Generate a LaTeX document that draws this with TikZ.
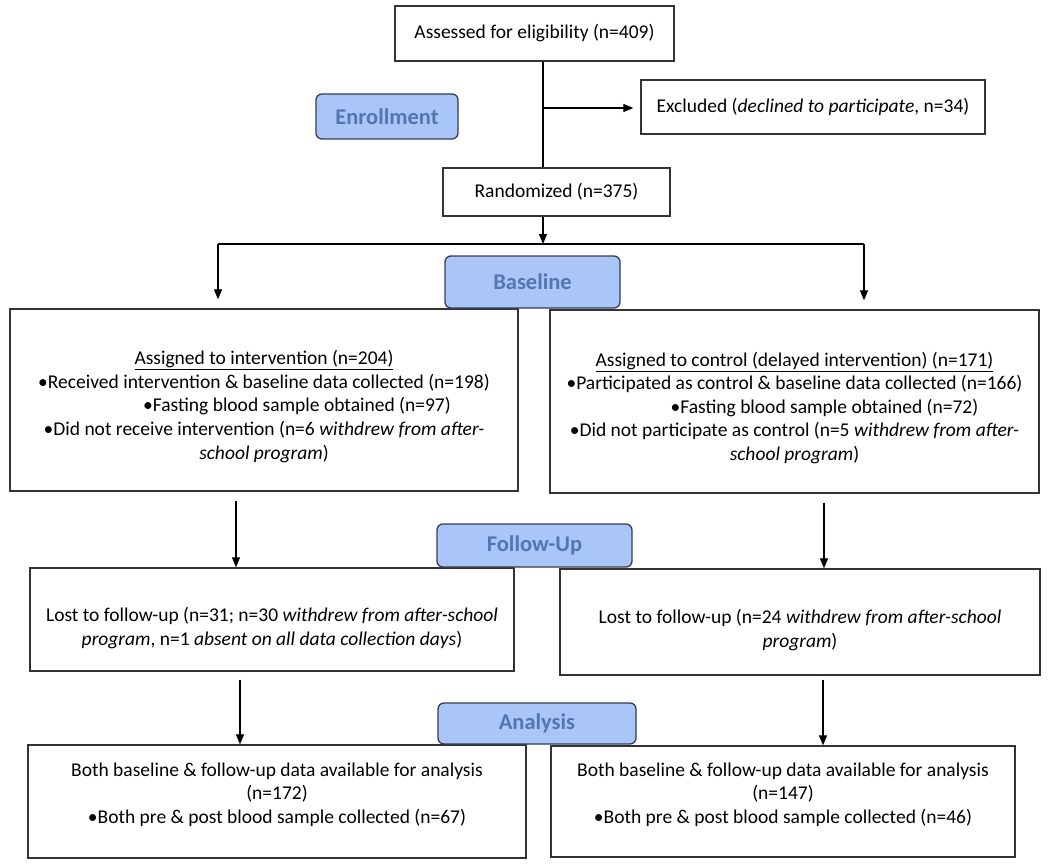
\documentclass[tikz,border=0pt]{standalone}
\usepackage{fontspec}
\setmainfont{Carlito}
\usetikzlibrary{positioning, arrows.meta}

\definecolor{phasefill}{RGB}{170,198,248}
\definecolor{phasetext}{RGB}{84,118,176}
\definecolor{phaseline}{RGB}{52,60,78}

\newcommand{\padtop}[1]{\rule{0pt}{#1}}
\newcommand{\padbot}[1]{\rule[-#1]{0pt}{#1}}

\begin{document}
\begin{tikzpicture}[x=1pt, y=-1pt]
        \tikzset{box/.style={draw=black!80, line width=1.4pt, fill=white, align=center, inner sep=0pt,
                font=\fontsize{19.5}{23.6}\selectfont}}
        \tikzset{phase/.style={draw=phaseline, line width=1.3pt, fill=phasefill, rounded corners=6pt,
                inner sep=0pt, text=phasetext, font=\fontsize{22.5}{26}\selectfont\bfseries}}
        \tikzset{arr/.style={line width=1.2pt, -{Triangle[length=10pt,width=8pt]}}}
        \useasboundingbox (0,0) rectangle (1050,864);

        % enrollment
        \node[box, minimum width=279pt, minimum height=55pt] (elig) at (534.5,33.5) {Assessed for eligibility (n=409)};
        \node[box, minimum width=344pt, minimum height=54pt] (excl) at (813,107) {Excluded (\textit{declined to participate}, n=34)};
        \node[box, minimum width=227pt, minimum height=48pt] (rand) at (556.5,192) {Randomized (n=375)};

        % baseline
        \node[box, minimum width=508pt, minimum height=182pt] (intv) at (264,400) {\padtop{27pt}\underline{Assigned to intervention (n=204)}\\
                \textbullet Received intervention \& baseline data collected (n=198)\\
                \hspace*{66pt}\textbullet Fasting blood sample obtained (n=97)\\
                \textbullet Did not receive intervention (n=6 \textit{withdrew from after-}\\
                \textit{school program})};
        \node[box, minimum width=489pt, minimum height=183pt] (ctrl) at (794.5,401.5) {\padtop{27pt}\underline{Assigned to control (delayed intervention) (n=171)}\\
                \textbullet Participated as control \& baseline data collected (n=166)\\
                \hspace*{60pt}\textbullet Fasting blood sample obtained (n=72)\\
                \textbullet Did not participate as control (n=5 \textit{withdrew from after-}\\
                \textit{school program})};

        % follow-up
        \node[box, minimum width=484pt, minimum height=103pt] (lostI) at (272,619.5) {\padtop{31pt}Lost to follow-up (n=31; n=30 \textit{withdrew from after-school}\\
                \textit{program}, n=1 \textit{absent on all data collection days})};
        \node[box, minimum width=480pt, minimum height=106pt] (lostC) at (800,622) {\padtop{30pt}Lost to follow-up (n=24 \textit{withdrew from after-school}\\
                \textit{program})};

        % analysis
        \node[box, minimum width=498pt, minimum height=113pt] (anaI) at (277,801.5) {Both baseline \& follow-up data available for analysis\\
                (n=172)\\
                \textbullet Both pre \& post blood sample collected (n=67)\padbot{17pt}};
        \node[box, minimum width=464pt, minimum height=111pt] (anaC) at (783,801.5) {Both baseline \& follow-up data available for analysis\\
                (n=147)\\
                \textbullet Both pre \& post blood sample collected (n=46)\padbot{17pt}};

        % connectors
        \coordinate (split) at (543,108);
        \coordinate (fork) at (543,244);
        \coordinate (forkL) at (218,244);
        \coordinate (forkR) at (864,244);
        \coordinate (colL) at (236,0);
        \coordinate (colR) at (824,0);
        \coordinate (colL2) at (240,0);
        \coordinate (colR2) at (823,0);

        \draw[line width=1.2pt] (split |- elig.south) -- (split |- rand.north);
        \draw[arr, shorten >=7pt] (split) -- (split -| excl.west);
        \draw[arr] (split |- rand.south) -- (fork);
        \draw[line width=1.2pt] (forkL) -- (forkR);
        \draw[arr, shorten >=9pt] (forkL) -- (forkL |- intv.north);
        \draw[arr, shorten >=9pt] (forkR) -- (forkR |- ctrl.north);
        \draw[arr, shorten <=9pt] (colL |- intv.south) -- (colL |- lostI.north);
        \draw[arr, shorten <=9pt] (colR |- ctrl.south) -- (colR |- lostC.north);
        \draw[arr, shorten <=8pt] (colL2 |- lostI.south) -- (colL2 |- anaI.north);
        \draw[arr, shorten <=4pt] (colR2 |- lostC.south) -- (colR2 |- anaC.north);

        % phases
        \node[phase, minimum width=142pt, minimum height=45pt] (enroll) at (387,116.5) {Enrollment};
        \node[phase, minimum width=175pt, minimum height=52pt] (base) at (532.5,282) {Baseline};
        \node[phase, minimum width=195pt, minimum height=43pt] (follow) at (534.5,545.5) {Follow-Up};
        \node[phase, minimum width=198pt, minimum height=41pt] (analysis) at (537,723.5) {Analysis};
\end{tikzpicture}
\end{document}
